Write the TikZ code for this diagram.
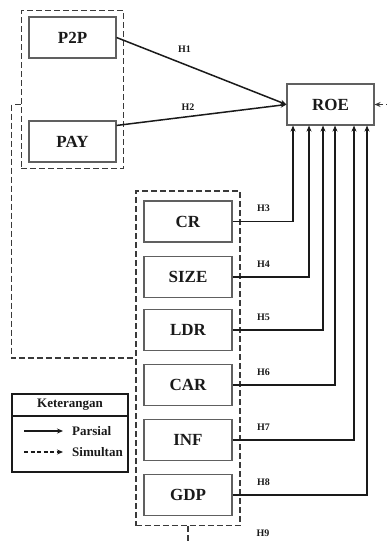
\documentclass[tikz,border=0pt]{standalone}
\usepackage{fontspec}
\setmainfont{Liberation Serif}
\usetikzlibrary{arrows.meta,fit}
\definecolor{boxedge}{HTML}{606060}
\definecolor{grpedge}{HTML}{3A3A3A}
\definecolor{ink}{HTML}{1A1A1A}

\begin{document}
\begin{tikzpicture}[x=1pt,y=-1pt,
  var/.style={draw=boxedge,fill=white,line width=1.1pt,minimum width=88pt,minimum height=41pt,inner sep=0pt,font=\bfseries\fontsize{17}{20}\selectfont,text=ink},
  grp/.style={draw=grpedge,line width=1.8pt,dash pattern=on 6pt off 3pt},
  par/.style={-{Stealth[length=6pt,width=5pt]},line width=1.5pt,ink},
  sim/.style={-{Stealth[length=6pt,width=5pt]},line width=1.6pt,grpedge,dash pattern=on 6pt off 3pt},
  hyp/.style={font=\bfseries\fontsize{10}{12}\selectfont,text=ink,inner sep=1pt},
  leg/.style={font=\bfseries\fontsize{13}{15}\selectfont,text=ink,inner sep=0pt}]
  \useasboundingbox (0,0) rectangle (387,544);
  \fill[white] (0,0) rectangle (387,544);

  % ===== dependent =====
  \node[var,minimum width=87pt] (roe) at (330.5,104.5) {ROE};

  % ===== fintech group =====
  \node[var,minimum width=87pt] (p2p) at (72.5,37.5) {P2P};
  \node[var,minimum width=87pt] (pay) at (72.5,141.5) {PAY};
  \node[grp,fit=(p2p)(pay),inner xsep=7pt,inner ysep=6pt] (g1) {};

  % ===== control group =====
  \foreach \v/\t/\y in {cr/CR/221.5, size/SIZE/277, ldr/LDR/330, car/CAR/385, inf/INF/440, gdp/GDP/495}
    \node[var] (\v) at (188,\y) {\t};
  \node[grp,fit=(cr)(gdp),inner xsep=7.5pt,inner ysep=9.5pt] (g2) {};

  % ===== partial paths =====
  \draw[par] (p2p.east) -- (roe.west) node[hyp,pos=0.4,above=10pt] {H1};
  \draw[par] ([yshift=-5pt]pay.north east) -- (roe.west) node[hyp,pos=0.42,above=4pt] {H2};
  \foreach \v/\x/\h in {cr/293/3, size/309/4, ldr/323/5, car/335/6, inf/354/7, gdp/367/8}{
    \draw[par] (\v.east) -| (\x,0 |- roe.south);
    \path (\v.east) ++(31,-13) node[hyp] (h\h) {H\h};
  }

  % ===== simultaneous path =====
  \draw[grp] ([yshift=-15pt]g1.west) -- ++(-9,0) |- (g2.west);
  \draw[sim] (g2.south) -- ++(0,35) -| ([xshift=25pt]roe.east) -- (roe.east);
  \path (g2.south) ++(75,7) node[hyp] (h9) {H9};

  % ===== legend =====
  \node[draw=ink,line width=1.5pt,minimum width=116pt,minimum height=78pt] (legbox) at (70,433) {};
  \node[leg] (legtit) at (70,405) {Keterangan};
  \draw[ink,line width=1.8pt] (legbox.west |- 0,416) -- (legbox.east |- 0,416);
  \node[leg,anchor=west] (lpar) at (72,431) {Parsial};
  \node[leg,anchor=west] (lsim) at (72,452) {Simultan};
  \draw[par,line width=1.2pt] ([xshift=-48pt]lpar.west) -- ([xshift=-9pt]lpar.west);
  \draw[sim,ink,line width=1.2pt,dash pattern=on 4pt off 2.5pt] ([xshift=-48pt]lsim.west) -- ([xshift=-9pt]lsim.west);
\end{tikzpicture}
\end{document}
